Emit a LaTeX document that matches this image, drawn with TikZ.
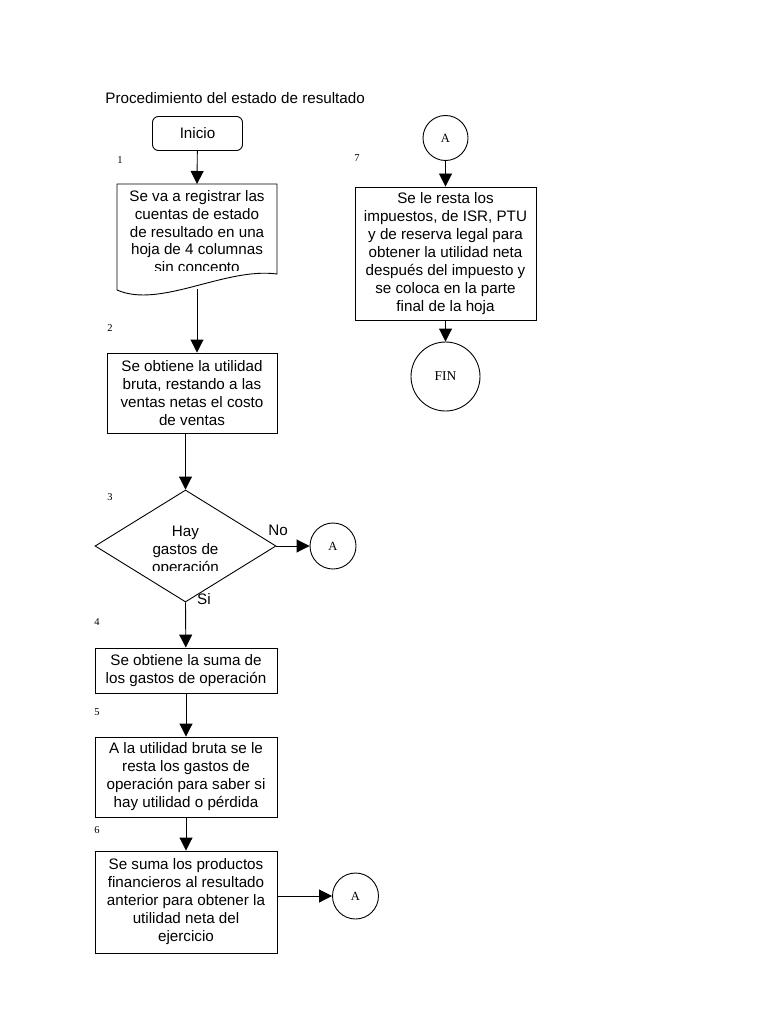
\documentclass[tikz,border=0pt]{standalone}
\usepackage{fontspec}
\setmainfont{Liberation Sans}
\newfontfamily\serifnum{Liberation Serif}
\usetikzlibrary{arrows.meta,shapes.geometric}

\begin{document}
\begin{tikzpicture}[x=1pt,y=-1pt,line width=0.9pt,
  every node/.style={font=\fontsize{15.2}{18}\selectfont,inner sep=0pt},
  proc/.style={draw,rectangle,align=center},
  conn/.style={draw,circle,font=\serifnum\fontsize{12.5}{14}\selectfont},
  num/.style={font=\serifnum\fontsize{10.5}{12}\selectfont},
  arr/.style={-{Triangle[length=13pt,width=13pt]}}]
\useasboundingbox (0,0) rectangle (768,1024);
\node[anchor=west] (title) at (105,98) {Procedimiento del estado de resultado};

% columna izquierda
\node[proc,rounded corners=6pt,minimum width=90pt,minimum height=34pt] (ini) at (197.5,133.5) {Inicio};
\node[num] (n1) at (120,160) {1};
\draw (117,184) -- (277,184) -- (277,274)
  .. controls (225,267) and (160,309) .. (117,290) -- cycle;
\coordinate (docTop) at (197,184);
\coordinate (docEnd) at (197,289);
\begin{scope}
\clip (117,184) rectangle (277,270.5);
\node[align=center,anchor=north,font=\fontsize{15.2}{17.6}\selectfont] (doc) at (197,190.5) {Se va a registrar las\\cuentas de estado\\de resultado en una\\hoja de 4 columnas\\sin concepto};
\end{scope}
\node[num] (n2) at (110,328) {2};
\node[proc,minimum width=170pt,minimum height=80pt] (obt) at (192,393) {Se obtiene la utilidad\\bruta, restando a las\\ventas netas el costo\\de ventas};
\node[num] (n3) at (110,497) {3};
\node[draw,diamond,minimum width=181pt,minimum height=112pt] (dec) at (185.5,546) {};
\begin{scope}
\clip (95,490) rectangle (276,570);
\node[align=center] (dectxt) at (185.5,550.5) {Hay\\gastos de\\operación};
\end{scope}
\node (no) at (278,530) {No};
\node (si) at (204,599) {Si};
\node[conn,minimum size=46pt] (a1) at (333,546) {A};
\node[num] (n4) at (97,622) {4};
\node[proc,minimum width=182pt,minimum height=45pt] (suma) at (186,670.5) {Se obtiene la suma de\\los gastos de operación};
\node[num] (n5) at (97,712) {5};
\node[proc,minimum width=182pt,minimum height=80pt] (resta) at (186,777) {A la utilidad bruta se le\\resta los gastos de\\operación para saber si\\hay utilidad o pérdida};
\node[num] (n6) at (97,830) {6};
\node[proc,minimum width=182pt,minimum height=102pt] (prod) at (186,902) {Se suma los productos\\financieros al resultado\\anterior para obtener la\\utilidad neta del\\ejercicio};
\node[conn,minimum size=46pt] (a2) at (355.5,896) {A};

% columna derecha
\node[conn,minimum size=45pt] (a3) at (445.5,138) {A};
\node[num] (n7) at (357,158) {7};
\node[proc,minimum width=181pt,minimum height=133pt] (imp) at (445.5,253.5) {Se le resta los\\impuestos, de ISR, PTU\\y de reserva legal para\\obtener la utilidad neta\\después del impuesto y\\se coloca en la parte\\final de la hoja};
\node[conn,minimum size=69pt,font=\serifnum\fontsize{13.5}{15}\selectfont] (fin) at (445.5,376.5) {FIN};

\draw[arr] (ini) -- (docTop);
\draw[arr] (docEnd) -- (docEnd |- obt.north);
\draw[arr] (dec.north |- obt.south) -- (dec.north);
\draw[arr] (dec.east) -- (a1);
\draw[arr] (dec.south) -- (suma);
\draw[arr] (suma) -- (resta);
\draw[arr] (resta) -- (prod);
\draw[arr] (prod.east |- a2) -- (a2);
\draw[arr] (a3) -- (imp);
\draw[arr] (imp) -- (fin);
\end{tikzpicture}
\end{document}
